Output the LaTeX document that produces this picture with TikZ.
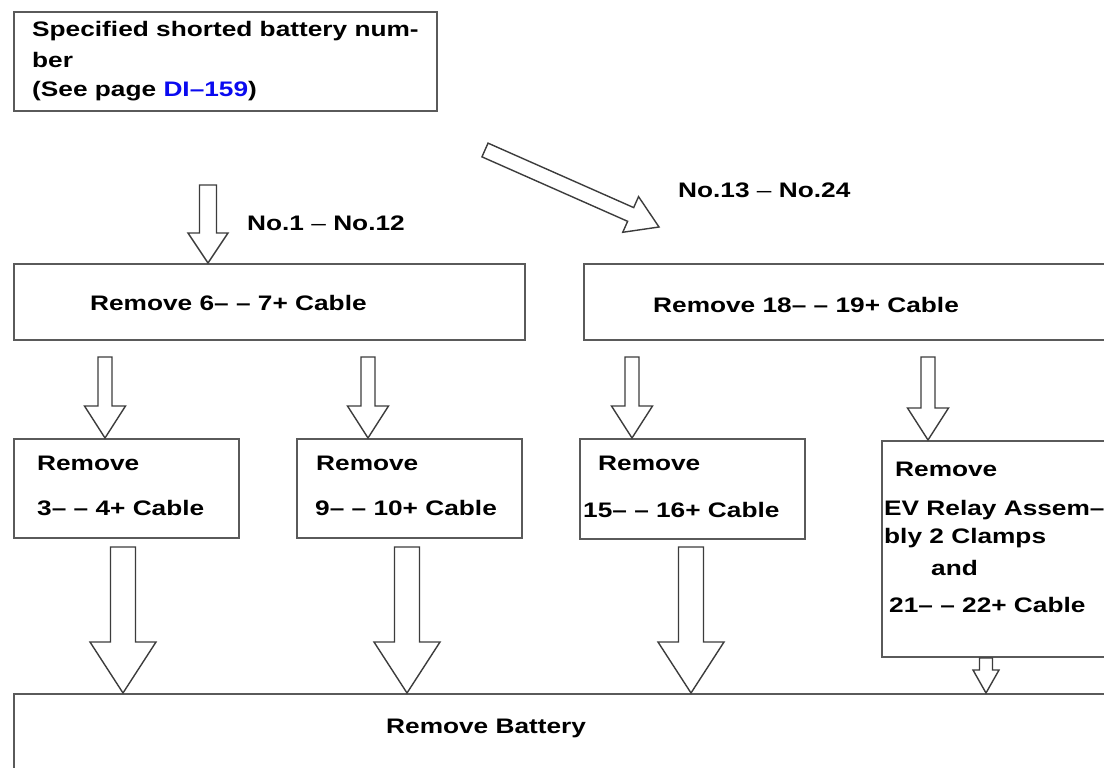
\documentclass[tikz,border=0pt]{standalone}
\usepackage{fontspec}
\setmainfont{Liberation Sans}[FakeStretch=1.25]
\usetikzlibrary{calc}
\definecolor{boxgray}{HTML}{5A5A5A}
\definecolor{arrgray}{HTML}{3C3C3C}
\definecolor{linkblue}{HTML}{0A0AF0}
\tikzset{
  box/.style={draw=boxgray, line width=2pt, fill=white, inner sep=0pt, anchor=north west},
  txt/.style={anchor=base west, inner sep=0pt, font=\fontsize{21}{30}\selectfont\bfseries},
  blockarrow/.style={draw=arrgray, line width=1.4pt, fill=white, line join=miter},
}
\newcommand\blockarr[5]{%
  \path ($(#2)!#5!(#1)$) coordinate (tmpH);
  \draw[blockarrow] ($(#1)!#3!90:(#2)$) -- ($(tmpH)!#3!-90:(#1)$) -- ($(tmpH)!#4!-90:(#1)$) -- (#2)
    -- ($(tmpH)!#4!90:(#1)$) -- ($(tmpH)!#3!90:(#1)$) -- ($(#1)!#3!-90:(#2)$) -- cycle;}
\begin{document}
\begin{tikzpicture}[x=1pt,y=-1pt]
\fill[white] (0,0) rectangle (1104,768);
\useasboundingbox (0,0) rectangle (1104,768);

% boxes
\node[box, minimum width=423pt, minimum height=99pt] (b0) at (13,11) {};
\node[box, minimum width=511pt, minimum height=76pt] (b1) at (13,263) {};
\node[box, minimum width=540pt, minimum height=76pt] (b2) at (583,263) {};
\node[box, minimum width=225pt, minimum height=99pt] (b3) at (13,438) {};
\node[box, minimum width=225pt, minimum height=99pt] (b4) at (296,438) {};
\node[box, minimum width=225pt, minimum height=100pt] (b5) at (579,438) {};
\node[box, minimum width=240pt, minimum height=216pt] (b6) at (881,440) {};
\node[box, minimum width=1110pt, minimum height=100pt] (b7) at (13,693) {};

% texts
\node[txt] (t0a) at (32,37) {Specified shorted battery num-};
\node[txt] (t0b) at (32,67) {ber};
\node[txt] (t0c) at (32,96) {(See page {\color{linkblue}DI–159})};
\node[txt] (l1) at (247,230) {No.1 {\mdseries –} No.12};
\node[txt] (l2) at (678,197) {No.13 {\mdseries –} No.24};
\node[txt] (t1) at (90,310) {Remove 6– – 7+ Cable};
\node[txt] (t2) at (653,312) {Remove 18– – 19+ Cable};
\node[txt] (t3a) at (37,470) {Remove};
\node[txt] (t3b) at (37,515) {3– – 4+ Cable};
\node[txt] (t4a) at (316,470) {Remove};
\node[txt] (t4b) at (315,515) {9– – 10+ Cable};
\node[txt] (t5a) at (598,470) {Remove};
\node[txt] (t5b) at (583,517) {15– – 16+ Cable};
\node[txt] (t6a) at (895,476) {Remove};
\node[txt] (t6b) at (884,515) {EV Relay Assem–};
\node[txt] (t6c) at (884,543) {bly 2 Clamps};
\node[txt] (t6d) at (931,575) {and};
\node[txt] (t6e) at (889,612) {21– – 22+ Cable};
\node[txt] (t7) at (386,733) {Remove Battery};

% arrow anchors
\coordinate (s0) at (208,185); \coordinate (e0) at (s0 |- b1.north);
\coordinate (sd) at (485,150); \coordinate (ed) at (659,227);
\coordinate (s1) at (105,357); \coordinate (e1) at (s1 |- b3.north);
\coordinate (s2) at (368,357); \coordinate (e2) at (s2 |- b4.north);
\coordinate (s3) at (632,357); \coordinate (e3) at (s3 |- b5.north);
\coordinate (s4) at (928,357); \coordinate (e4) at (s4 |- b6.north);
\coordinate (u1) at (123,547); \coordinate (v1) at (u1 |- b7.north);
\coordinate (u2) at (407,547); \coordinate (v2) at (u2 |- b7.north);
\coordinate (u3) at (691,547); \coordinate (v3) at (u3 |- b7.north);
\coordinate (u4) at (b6.south -| 986,0); \coordinate (v4) at (u4 |- b7.north);

% arrows
\blockarr{s0}{e0}{8.5pt}{20pt}{30pt}
\blockarr{sd}{ed}{7.5pt}{19.5pt}{31pt}
\blockarr{s1}{e1}{7pt}{20.5pt}{32pt}
\blockarr{s2}{e2}{7pt}{20.5pt}{32pt}
\blockarr{s3}{e3}{7pt}{20.5pt}{32pt}
\blockarr{s4}{e4}{7pt}{20.5pt}{32pt}
\blockarr{u1}{v1}{12.5pt}{33pt}{51pt}
\blockarr{u2}{v2}{12.5pt}{33pt}{51pt}
\blockarr{u3}{v3}{12.5pt}{33pt}{51pt}
\blockarr{u4}{v4}{6.5pt}{13pt}{23pt}
\end{tikzpicture}
\end{document}
